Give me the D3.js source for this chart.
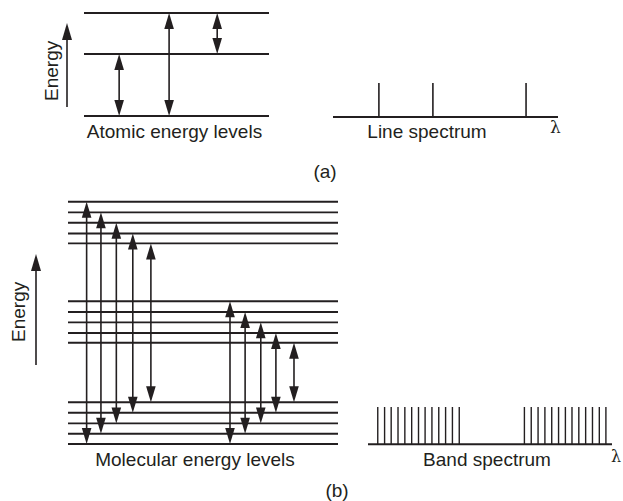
<!DOCTYPE html>
<html>
<head>
<meta charset="utf-8">
<script src="https://cdn.jsdelivr.net/npm/d3@7"></script>
<style>
  body { margin:0; background:#fff; }
  text { font-family: "Liberation Sans", Arial, sans-serif; fill:#231f20; }
</style>
</head>
<body>
<div id="chart"></div>
<script>
// (a) atomic levels, energy in arbitrary units
const atomicLevels = [0, 6.2, 10.3]
// transitions: position along level (0..1), lower level, upper level
const atomicTransitions = [
  { pos: 0.19, lo: 0, hi: 1 },
  { pos: 0.46, lo: 0, hi: 2 },
  { pos: 0.72, lo: 1, hi: 2 }
]
const lineSpectrum = [20.4, 44.4, 85.8]

// (b) molecular levels
const lowerLevels  = [0, 4.2, 8.5, 12.9, 17.2]
const middleLevels = [41.8, 45.8, 50.2, 54.5, 58.9]
const upperLevels  = [82.8, 86.9, 91.3, 95.6, 100]
const upperTransPos  = [6.9, 12.2, 17.9, 24.0, 30.7]
const middleTransPos = [60.0, 65.6, 71.4, 77.0, 83.7]
const bandLines = [4.0, 6.8, 9.5, 12.3, 15.1, 17.9, 20.7, 23.4, 26.2, 29.0, 31.8, 34.6, 37.4,
                   64.1, 66.9, 69.7, 72.5, 75.3, 78.1, 80.9, 83.6, 86.4, 89.2, 92.0, 94.8, 97.5]

const width = 623, height = 501
const ink = "#231f20"
const fs = 19

let svg = d3.select("#chart").append("svg")
  .attr("width", width).attr("height", height)

function head(g, x, y, dir, len, half) {
  // dir = -1 pointing up, +1 pointing down; tip at (x,y)
  let p = d3.path()
  p.moveTo(x, y)
  p.lineTo(x - half, y - dir * len)
  p.lineTo(x + half, y - dir * len)
  p.closePath()
  g.append("path").attr("d", p.toString()).attr("fill", ink)
}

function doubleArrow(g, x, yTop, yBot) {
  let len = 16, half = 4.8
  g.append("line").attr("x1", x).attr("x2", x)
    .attr("y1", yTop + len - 1).attr("y2", yBot - len + 1)
    .attr("stroke", ink).attr("stroke-width", 1.6)
  head(g, x, yTop, -1, len, half)
  head(g, x, yBot, 1, len, half)
}

function energyArrow(g, x, yTop, yBot, label, textX, textStart) {
  g.append("line").attr("x1", x).attr("x2", x)
    .attr("y1", yTop + 10).attr("y2", yBot)
    .attr("stroke", ink).attr("stroke-width", 1.6)
  head(g, x, yTop, -1, 17, 5)
  g.append("text")
    .attr("transform", `translate(${textX},${textStart}) rotate(-90)`)
    .attr("font-size", fs)
    .text(label)
}

// ---------- (a) ----------
let ga = svg.append("g")
let yA = d3.scaleLinear().domain([0, 10.3]).range([116, 13])
let xA = d3.scaleLinear().domain([0, 1]).range([84, 269])

ga.selectAll("line.level").data(atomicLevels).enter().append("line")
  .attr("class", "level")
  .attr("x1", xA(0)).attr("x2", xA(1))
  .attr("y1", d => yA(d)).attr("y2", d => yA(d))
  .attr("stroke", ink).attr("stroke-width", 1.9)

atomicTransitions.forEach(t => {
  doubleArrow(ga, xA(t.pos), yA(atomicLevels[t.hi]), yA(atomicLevels[t.lo]))
})

energyArrow(ga, 67, 23, 107, "Energy", 57.5, 101)

ga.append("text").attr("x", (xA(0) + xA(1)) / 2 - 2).attr("y", 138)
  .attr("text-anchor", "middle").attr("font-size", fs)
  .text("Atomic energy levels")

// line spectrum
let xL = d3.scaleLinear().domain([0, 100]).range([333, 558])
ga.append("line").attr("x1", xL(0)).attr("x2", xL(100))
  .attr("y1", 117).attr("y2", 117)
  .attr("stroke", ink).attr("stroke-width", 1.9)
ga.selectAll("line.spec").data(lineSpectrum).enter().append("line")
  .attr("class", "spec")
  .attr("x1", d => xL(d)).attr("x2", d => xL(d))
  .attr("y1", 83).attr("y2", 117)
  .attr("stroke", ink).attr("stroke-width", 1.6)
ga.append("text").attr("x", 427).attr("y", 138)
  .attr("text-anchor", "middle").attr("font-size", fs)
  .text("Line spectrum")
ga.append("text").attr("x", 550).attr("y", 133)
  .attr("font-size", 17).style("font-family", "'DejaVu Serif', serif")
  .text("λ")
ga.append("text").attr("x", 325).attr("y", 178)
  .attr("text-anchor", "middle").attr("font-size", fs)
  .text("(a)")

// ---------- (b) ----------
let gb = svg.append("g")
let yB = d3.scaleLinear().domain([0, 100]).range([444, 201.7])
let xB = d3.scaleLinear().domain([0, 100]).range([68, 338])

let allLevels = lowerLevels.concat(middleLevels, upperLevels)
gb.selectAll("line.level").data(allLevels).enter().append("line")
  .attr("class", "level")
  .attr("x1", xB(0)).attr("x2", xB(100))
  .attr("y1", d => yB(d)).attr("y2", d => yB(d))
  .attr("stroke", ink).attr("stroke-width", 1.9)

upperTransPos.forEach((p, i) => {
  doubleArrow(gb, xB(p), yB(upperLevels[4 - i]), yB(lowerLevels[i]))
})
middleTransPos.forEach((p, i) => {
  doubleArrow(gb, xB(p), yB(middleLevels[4 - i]), yB(lowerLevels[i]))
})

energyArrow(gb, 36, 254, 365, "Energy", 24.5, 342)

gb.append("text").attr("x", 195).attr("y", 466)
  .attr("text-anchor", "middle").attr("font-size", fs)
  .text("Molecular energy levels")

// band spectrum
let xS = d3.scaleLinear().domain([0, 100]).range([368, 612])
gb.append("line").attr("x1", xS(0)).attr("x2", xS(100))
  .attr("y1", 444.3).attr("y2", 444.3)
  .attr("stroke", ink).attr("stroke-width", 1.9)
gb.selectAll("line.band").data(bandLines).enter().append("line")
  .attr("class", "band")
  .attr("x1", d => xS(d)).attr("x2", d => xS(d))
  .attr("y1", 407).attr("y2", 444.3)
  .attr("stroke", ink).attr("stroke-width", 1.4)
gb.append("text").attr("x", 487).attr("y", 466)
  .attr("text-anchor", "middle").attr("font-size", fs)
  .text("Band spectrum")
gb.append("text").attr("x", 611).attr("y", 462)
  .attr("font-size", 16).style("font-family", "'DejaVu Serif', serif")
  .text("λ")
gb.append("text").attr("x", 337).attr("y", 497)
  .attr("text-anchor", "middle").attr("font-size", fs)
  .text("(b)")
</script>
</body>
</html>
